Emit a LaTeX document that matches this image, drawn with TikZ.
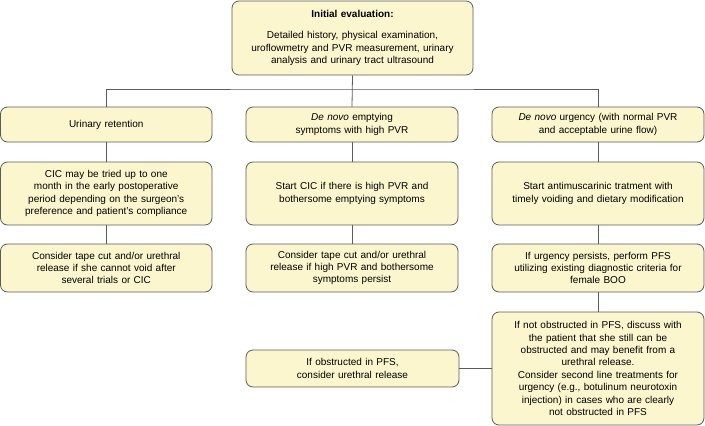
\documentclass[tikz,border=0pt]{standalone}
\usepackage{fontspec}
\setmainfont{Liberation Sans}
\usetikzlibrary{calc}
\definecolor{boxfill}{HTML}{FCF6CE}
\definecolor{boxline}{HTML}{5B5B5B}
\tikzset{
  stepbox/.style={draw=boxline,fill=boxfill,rounded corners=7pt,align=center,
    text width=200pt,inner xsep=6pt,inner ysep=2pt,line width=0.8pt,
    font=\fontsize{10}{12.4}\selectfont},
  link/.style={draw=boxline,line width=0.8pt}
}
\begin{document}
\begin{tikzpicture}[x=1pt,y=-1pt]
\pgfmathsetmacro{\xa}{106.25}
\pgfmathsetmacro{\xb}{352}
\pgfmathsetmacro{\xc}{598}
\pgfmathsetmacro{\ya}{124.5}
\pgfmathsetmacro{\yb}{193.5}
\pgfmathsetmacro{\yc}{268}
\pgfmathsetmacro{\yd}{368.5}
\useasboundingbox (0,0) rectangle (705,426);
\node[stepbox,text width=229pt,minimum height=74pt] (init) at (352.5,38)
  {\textbf{Initial evaluation:}\\[8.5pt]Detailed history, physical examination,\\uroflowmetry and PVR measurement, urinary\\analysis and urinary tract ultrasound};
\coordinate (bus) at (\xb,89);
\node[stepbox,text width=199.5pt,minimum height=35pt] (ret) at (\xa,\ya) {Urinary retention};
\node[stepbox,minimum height=35pt] (empty) at (\xb,\ya) {\emph{De novo} emptying\\symptoms with high PVR};
\node[stepbox,minimum height=35pt] (urg) at (\xc,\ya) {\emph{De novo} urgency (with normal PVR\\and acceptable urine flow)};
\node[stepbox,text width=199.5pt,minimum height=63pt] (cic) at (\xa,\yb) {CIC may be tried up to one\\month in the early postoperative\\period depending on the surgeon's\\preference and patient's compliance};
\node[stepbox,minimum height=63pt] (start) at (\xb,\yb) {Start CIC if there is high PVR and\\bothersome emptying symptoms};
\node[stepbox,minimum height=63pt] (anti) at (\xc,\yb) {Start antimuscarinic tratment with\\timely voiding and dietary modification};
\node[stepbox,text width=199.5pt,minimum height=48pt] (cutret) at (\xa,\yc) {Consider tape cut and/or urethral\\release if she cannot void after\\several trials or CIC};
\node[stepbox,minimum height=48pt] (cutpvr) at (\xb,\yc) {Consider tape cut and/or urethral\\release if high PVR and bothersome\\symptoms persist};
\node[stepbox,minimum height=48pt] (pfs) at (\xc,\yc) {If urgency persists, perform PFS\\utilizing existing diagnostic criteria for\\female BOO};
\node[stepbox,minimum height=113pt] (notobs) at (\xc,\yd) {If not obstructed in PFS, discuss with\\the patient that she still can be\\obstructed and may benefit from a\\urethral release.\\Consider second line treatments for\\urgency (e.g., botulinum neurotoxin\\injection) in cases who are clearly\\not obstructed in PFS};
\node[stepbox,text width=201pt,minimum height=37pt] (obs) at (352.5,\yd) {If obstructed in PFS,\\consider urethral release};
\draw[link] (init.south) -- (empty.north);
\draw[link] (ret.north) |- (bus) -| (urg.north);
\foreach \a/\b in {ret/cic,cic/cutret,empty/start,start/cutpvr,urg/anti,anti/pfs,pfs/notobs}{\draw[link] (\a) -- (\b);}
\draw[link] (obs.east) -- (notobs.west);
\end{tikzpicture}
\end{document}
